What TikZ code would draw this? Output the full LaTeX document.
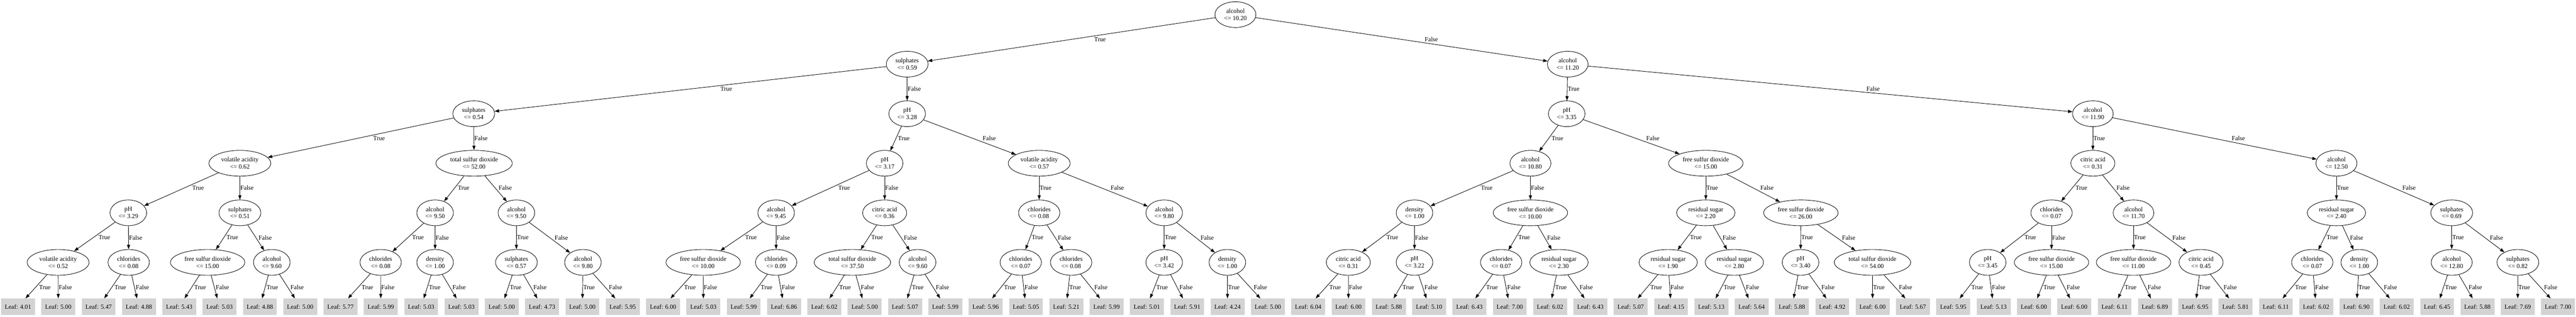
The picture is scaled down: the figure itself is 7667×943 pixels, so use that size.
\documentclass[tikz,border=0pt]{standalone}
\usepackage{fontspec}
\setmainfont{Liberation Serif}
\usetikzlibrary{shapes.geometric,calc,arrows.meta}
\definecolor{leafgray}{HTML}{D3D3D3}
\begin{document}
\begin{tikzpicture}[x=0.75pt,y=-0.75pt,
  every node/.style={font=\fontsize{14pt}{16pt}\selectfont},
  dec/.style={ellipse,draw,line width=1pt,align=center,inner xsep=7pt,inner ysep=0pt,minimum height=57.5pt},
  leafbox/.style={rectangle,fill=leafgray,draw=leafgray,line width=1pt,inner xsep=7.9pt,inner ysep=0pt,minimum height=36pt},
  edge/.style={draw,line width=1pt,-{Triangle[length=10pt,width=7pt]}},
  elabel/.style={anchor=west,inner sep=1pt}]
\useasboundingbox (0,0) rectangle (7667,943);
% root and upper levels
\node[dec] (n0-0) at (3677,43.5) {alcohol\\<= 10.20};
\foreach \x/\nm/\val [count=\i from 0] in {2700/sulphates/0.59, 4666/alcohol/11.20}
  {\node[dec] (n1-\i) at (\x,190.9) {\nm\\<= \val};}
\foreach \x/\nm/\val [count=\i from 0] in {1410/sulphates/0.54, 2700/pH/3.28, 4663/pH/3.35, 6229/alcohol/11.90}
  {\node[dec] (n2-\i) at (\x,338.3) {\nm\\<= \val};}
\foreach \x/\nm/\val [count=\i from 0] in {714/volatile acidity/0.62, 1411/total sulfur dioxide/52.00, 2633/pH/3.17, 3093/volatile acidity/0.57, 4555/alcohol/10.80, 5077/free sulfur dioxide/15.00, 6229/citric acid/0.31, 6954/alcohol/12.50}
  {\node[dec] (n3-\i) at (\x,485.7) {\nm\\<= \val};}
\foreach \x/\nm/\val [count=\i from 0] in {382/pH/3.29, 714/sulphates/0.51, 1295/alcohol/9.50, 1537/alcohol/9.50, 2310/alcohol/9.45, 2633/citric acid/0.36, 3093/chlorides/0.08, 3465/alcohol/9.80, 4210/density/1.00, 4555/free sulfur dioxide/10.00, 5077/residual sugar/2.20, 5360/free sulfur dioxide/26.00, 6106/chlorides/0.07, 6350/alcohol/11.70, 6954/residual sugar/2.40, 7297/sulphates/0.69}
  {\node[dec] (n4-\i) at (\x,633.1) {\nm\\<= \val};}
\foreach \x/\nm/\val [count=\i from 0] in {173/volatile acidity/0.52, 383/chlorides/0.08, 618/free sulfur dioxide/15.00, 809/alcohol/9.60, 1133/chlorides/0.08, 1295/density/1.00, 1537/sulphates/0.57, 1735/alcohol/9.80, 2093/free sulfur dioxide/10.00, 2310/chlorides/0.09, 2537/total sulfur dioxide/37.50, 2731/alcohol/9.60, 3038/chlorides/0.07, 3188/chlorides/0.08, 3465/pH/3.42, 3653/density/1.00, 4013/citric acid/0.31, 4210/pH/3.22, 4468/chlorides/0.07, 4640/residual sugar/2.30, 4965/residual sugar/1.90, 5162/residual sugar/2.80, 5359/pH/3.40, 5573/total sulfur dioxide/54.00, 5916/pH/3.45, 6106/free sulfur dioxide/15.00, 6350/free sulfur dioxide/11.00, 6551/citric acid/0.45, 6882/chlorides/0.07, 7022/density/1.00, 7297/alcohol/12.80, 7494/sulphates/0.82}
  {\node[dec] (n5-\i) at (\x,780.5) {\nm\\<= \val};}
% leaves
\foreach \v [count=\i from 0] in {4.01,5.00,5.47,4.88,5.43,5.03,4.88,5.00,5.77,5.99,5.03,5.03,5.00,4.73,5.00,5.95,6.00,5.03,5.99,6.86,6.02,5.00,5.07,5.99,5.96,5.05,5.21,5.99,5.01,5.91,4.24,5.00,6.04,6.00,5.88,5.10,6.43,7.00,6.02,6.43,5.07,4.15,5.13,5.64,5.88,4.92,6.00,5.67,5.95,5.13,6.00,6.00,6.11,6.89,6.95,5.81,6.11,6.02,6.90,6.02,6.45,5.88,7.69,7.00}
  {\node[leafbox] (leaf\i) at ({53.5+120*\i},912.5) {Leaf: \v};}
% edges between decision nodes
\foreach \k in {0,...,4} {
  \pgfmathtruncatemacro\m{2^\k-1}
  \pgfmathtruncatemacro\kk{\k+1}
  \foreach \i in {0,...,\m} {
    \pgfmathtruncatemacro\c{2*\i}
    \pgfmathtruncatemacro\d{2*\i+1}
    \draw[edge] (n\k-\i) -- (n\kk-\c);
    \draw[edge] (n\k-\i) -- (n\kk-\d);
    \node[elabel] at ($(n\k-\i)!0.432!(n\kk-\c)+(0,10)$) {True};
    \node[elabel] at ($(n\k-\i)!0.568!(n\kk-\d)+(0,-10)$) {False};
  }
}
% edges to leaves
\foreach \i in {0,...,31} {
  \pgfmathtruncatemacro\c{2*\i}
  \pgfmathtruncatemacro\d{2*\i+1}
  \draw[edge] (n5-\i) -- (leaf\c);
  \draw[edge] (n5-\i) -- (leaf\d);
  \node[elabel] at ($(n5-\i)!0.489!(leaf\c)+(0,10)$) {True};
  \node[elabel] at ($(n5-\i)!0.640!(leaf\d)+(0,-10)$) {False};
}
\end{tikzpicture}
\end{document}
